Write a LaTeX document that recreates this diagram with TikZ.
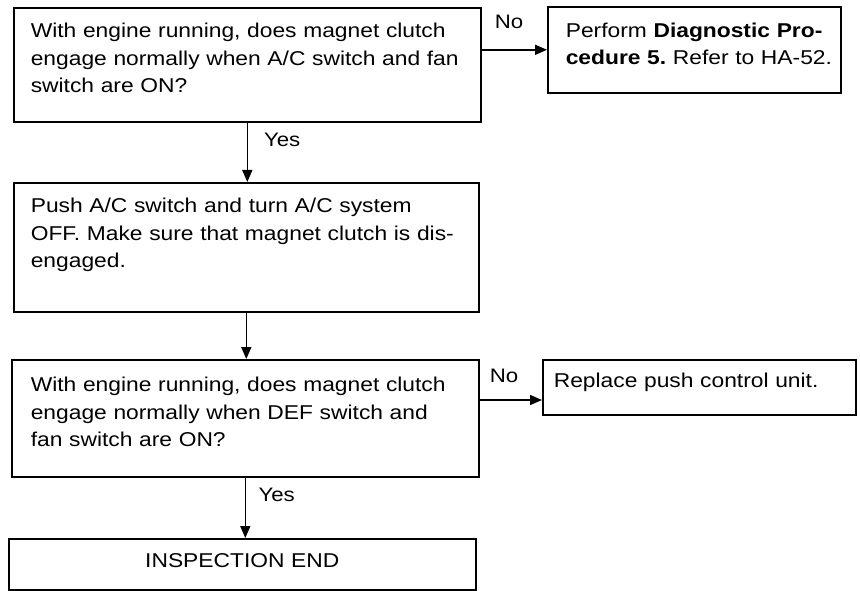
\documentclass[tikz,border=0pt]{standalone}
\usepackage{fontspec}
\setmainfont{Liberation Sans}[FakeStretch=1.14]
\usetikzlibrary{arrows.meta,calc}
\frenchspacing

\begin{document}
\begin{tikzpicture}[x=1pt, y=-1pt,
    box/.style={draw, line width=1.6pt, anchor=north west, align=left,
        inner ysep=0pt, font=\fontsize{20}{27.5}\selectfont},
    lbl/.style={inner sep=0pt, anchor=base west, font=\fontsize{19.5}{22}\selectfont},
    arr/.style={line width=1.6pt, -{Triangle[length=12pt, width=10pt]}}]

    \useasboundingbox (0,0) rectangle (860,591);

    % 判定・処理の箱
    \node[box, text width=433pt, inner xsep=17pt, text height=30pt, text depth=84pt] (q1) at (13,7)
        {With engine running, does magnet clutch\\engage normally when A/C switch and fan\\switch are ON?};
    \node[box, text width=257pt, inner xsep=18pt, text height=30.7pt, text depth=55.3pt] (proc5) at (547,6)
        {\mbox{Perform \textbf{Diagnostic Pro-}}\\\mbox{\textbf{cedure 5.} Refer to HA-52.}};
    \node[box, text width=431pt, inner xsep=17pt, text height=30pt, text depth=99pt] (push) at (13,182)
        {Push A/C switch and turn A/C system\\OFF. Make sure that magnet clutch is dis-\\engaged.};
    \node[box, text width=429pt, inner xsep=19pt, text height=32pt, text depth=85pt] (q2) at (11,359)
        {With engine running, does magnet clutch\\engage normally when DEF switch and\\fan switch are ON?};
    \node[box, text width=291pt, inner xsep=11pt, text height=28pt, text depth=27pt] (replace) at (542,359)
        {Replace push control unit.};
    \node[box, align=center, text width=467pt, inner xsep=0pt, text height=29pt, text depth=22pt] (endb) at (8,538)
        {INSPECTION END};

    % 矢印
    \draw[arr] (proc5.west -| q1.east) -- (proc5.west);
    \draw[arr] (q1.south) -- (q1.south |- push.north);
    \draw[arr] (push.south) -- (push.south |- q2.north);
    \coordinate (q2out) at ($(q2.north east)+(0,41)$);
    \draw[arr] (q2out) -- (q2out -| replace.west);
    \draw[arr] (q2.south) -- (q2.south |- endb.north);

    % ラベル
    \node[lbl] (no1) at ($(q1.east |- proc5.west)+(13,-21)$) {No};
    \node[lbl] (yes1) at ($(q1.south)+(16.5,24)$) {Yes};
    \node[lbl] (no2) at ($(q2out)+(10,-18)$) {No};
    \node[lbl] (yes2) at ($(q2.south)+(13,24)$) {Yes};

\end{tikzpicture}
\end{document}
